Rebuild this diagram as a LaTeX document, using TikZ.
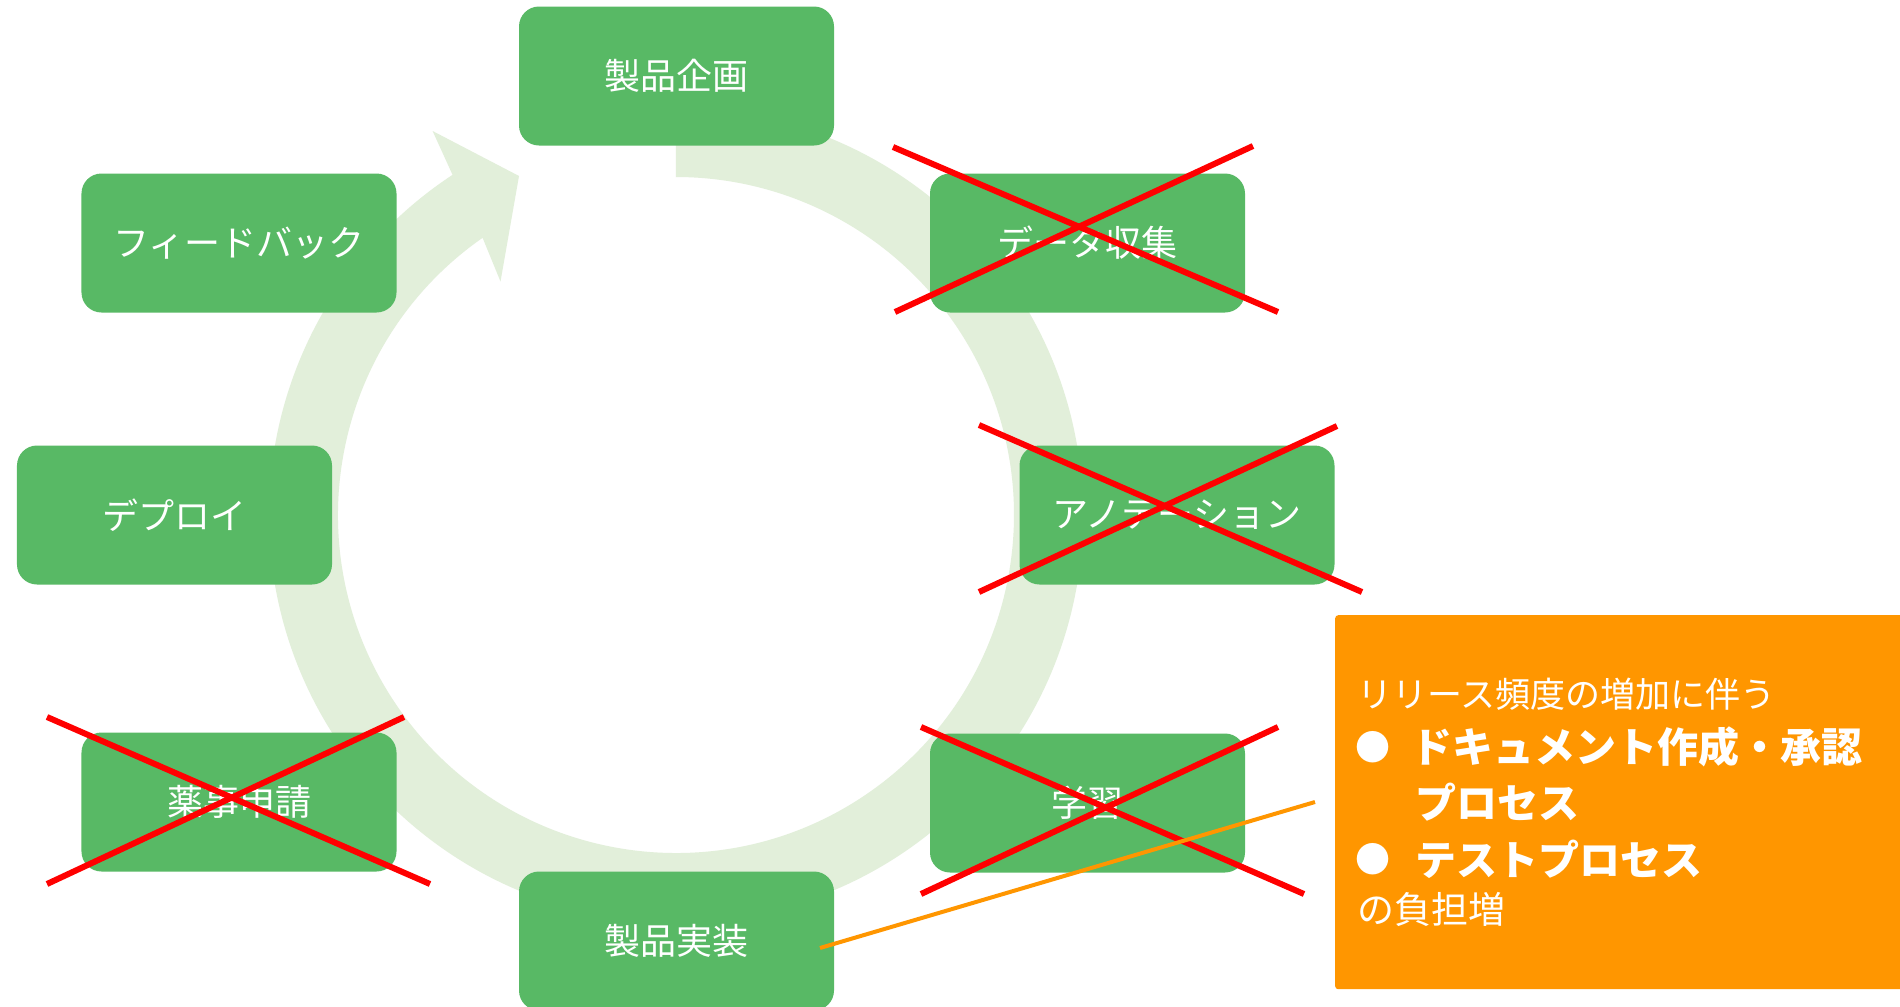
\documentclass[tikz,border=0pt]{standalone}
\usepackage{fontspec}
\newfontfamily\cjk{Noto Sans CJK JP}
\definecolor{ringgreen}{RGB}{226,239,218}
\definecolor{boxgreen}{RGB}{88,185,101}
\definecolor{crossred}{RGB}{255,0,0}
\definecolor{noteorange}{RGB}{255,150,0}
\begin{document}
\begin{tikzpicture}[x=1bp,y=1bp,
  stepbox/.style={rectangle, rounded corners=20bp, fill=boxgreen, minimum width=315bp, minimum height=139bp, inner sep=0pt, text=white, font=\cjk\fontsize{36bp}{40bp}\selectfont},
  crossline/.style={draw=crossred, line width=6bp},
  notetext/.style={anchor=west, inner sep=0pt, text=white, font=\cjk\fontsize{35bp}{40bp}\selectfont},
  notebold/.style={anchor=west, inner sep=0pt, text=white, font=\cjk\bfseries\fontsize{41bp}{48bp}\selectfont},
  bulletmark/.style={inner sep=0pt, text=white, font=\cjk\fontsize{35bp}{40bp}\selectfont}
]
\useasboundingbox (0,0) rectangle (1900,-1006);
\clip (0,0) rectangle (1900,-1006);
\fill[white] (0,0) rectangle (1900,-1006);

% circular arrow
\fill[ringgreen] (676,-108) arc[start angle=90, end angle=-236.7, radius=407]
  -- (432.6,-131) -- (519,-176) -- (500.5,-281.5) -- (482.6,-237.8)
  arc[start angle=-235.1, end angle=90, radius=338] -- cycle;

% steps
\node[stepbox] (plan)   at (676.5,-76)  {製品企画};
\node[stepbox] (data)   at (1087.5,-243) {データ収集};
\node[stepbox] (anno)   at (1177,-515)  {アノテーション};
\node[stepbox] (train)  at (1087.5,-803) {学習};
\node[stepbox] (impl)   at (676.5,-941) {製品実装};
\node[stepbox] (reg)    at (239,-802)   {薬事申請};
\node[stepbox] (deploy) at (174.5,-515) {デプロイ};
\node[stepbox] (fb)     at (239,-243)   {フィードバック};

% crosses
\coordinate (d1) at (893,-147);  \coordinate (d2) at (1278,-312);
\coordinate (d3) at (895,-312);  \coordinate (d4) at (1253,-146);
\coordinate (a1) at (979,-425);  \coordinate (a2) at (1362,-592);
\coordinate (a3) at (979,-592);  \coordinate (a4) at (1337,-426);
\coordinate (t1) at (921,-727);  \coordinate (t2) at (1304,-894);
\coordinate (t3) at (921,-894);  \coordinate (t4) at (1278,-727);
\coordinate (r1) at (47,-717);   \coordinate (r2) at (430,-884);
\coordinate (r3) at (47,-884);   \coordinate (r4) at (404,-717);
\draw[crossline] (d1) -- (d2); \draw[crossline] (d3) -- (d4);
\draw[crossline] (a1) -- (a2); \draw[crossline] (a3) -- (a4);
\draw[crossline] (t1) -- (t2); \draw[crossline] (t3) -- (t4);
\draw[crossline] (r1) -- (r2); \draw[crossline] (r3) -- (r4);

% note box
\node[fill=noteorange, rounded corners=3bp, minimum width=580bp, minimum height=374bp, inner sep=0pt, anchor=north west] (note) at (1335,-615) {};
\node[notetext] (l1) at (1357,-694) {リリース頻度の増加に伴う};
\node[bulletmark] (b1) at (1373,-747) {●};
\node[notebold] (l2) at (1411,-747) {ドキュメント作成・承認};
\node[notebold] (l3) at (1415,-802) {プロセス};
\node[bulletmark] (b2) at (1373,-859) {●};
\node[notebold] (l4) at (1415,-859) {テストプロセス};
\node[notetext, font=\cjk\fontsize{37bp}{42bp}\selectfont] (l5) at (1357,-909) {の負担増};

% callout line
\coordinate (ostart) at (820,-948);
\coordinate (oend) at (1315,-802);
\draw[noteorange, line width=4bp] (ostart) -- (oend);
\end{tikzpicture}
\end{document}
